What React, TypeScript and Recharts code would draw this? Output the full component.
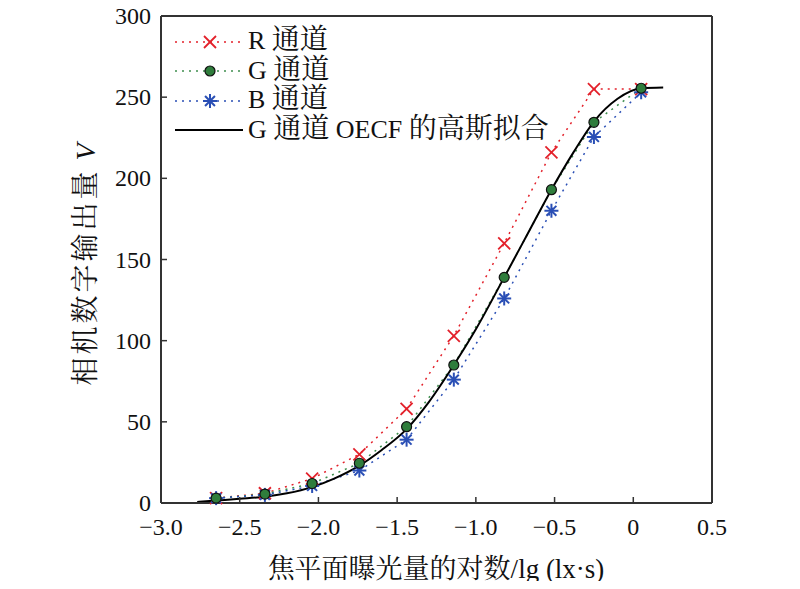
import React from "react"
import { ComposedChart, Line, XAxis, YAxis, ReferenceLine } from "recharts"

// exposure (lg lx·s) for the measured points
const exposure = [-2.65, -2.34, -2.04, -1.74, -1.44, -1.14, -0.82, -0.52, -0.25, 0.05]
const rValues = [3, 6, 15, 30, 58, 103, 160, 216, 255, 255]
const gValues = [3, 5.5, 12, 24.5, 47, 85, 139, 193, 234.5, 255.5]
const bValues = [3, 5, 10.5, 20, 39, 76, 126, 180, 225.5, 253]

// gaussian fit of G channel
const fitX = [-2.77, -2.65, -2.5, -2.34, -2.2, -2.04, -1.9, -1.74, -1.6, -1.44, -1.3, -1.14, -1.0, -0.82, -0.67, -0.52, -0.38, -0.25, -0.1, 0.05, 0.19]
const fitY = [0.6, 1.5, 2.6, 3.9, 6, 9.8, 15, 23, 32.5, 45.5, 62, 85, 107, 139, 166, 193, 216, 235, 249, 255.5, 256]

const xTicks = [-3, -2.5, -2, -1.5, -1, -0.5, 0, 0.5]
const yTicks = [0, 50, 100, 150, 200, 250, 300]

// legend labels split in latin / CJK parts so the CJK can be a bit larger
const seriesNames = [
  [["R ", "l"], ["通道", "c"]],
  [["G ", "l"], ["通道", "c"]],
  [["B ", "l"], ["通道", "c"]],
  [["G ", "l"], ["通道", "c"], [" OECF ", "l"], ["的高斯拟合", "c"]],
]

const RED = "#e3202a"
const GREEN = "#2f7d3c"
const GREEN_LINE = "#3f8f4f"
const BLUE = "#2a4fb5"
const AXIS = "#333"
const FONT = "'Liberation Serif', 'Times New Roman', 'Noto Serif CJK SC', 'Noto Sans CJK SC', serif"

const toPoints = (xs: number[], ys: number[]) => xs.map((x, i) => ({ x, y: ys[i] }))

const rData = toPoints(exposure, rValues)
const gData = toPoints(exposure, gValues)
const bData = toPoints(exposure, bValues)
const fitData = toPoints(fitX, fitY)

const TICK_MARGIN = 10
const TICK_LEN = 6

const fmtX = (v: number) => (v === 0 ? "0" : v < 0 ? "\u2212" + Math.abs(v).toFixed(1) : v.toFixed(1))

function XMark({ cx, cy, size = 6 }: { cx: number; cy: number; size?: number }) {
  return (
    <g stroke={RED} strokeWidth={1.8}>
      <line x1={cx - size} y1={cy - size} x2={cx + size} y2={cy + size} />
      <line x1={cx - size} y1={cy + size} x2={cx + size} y2={cy - size} />
    </g>
  )
}

function Circle({ cx, cy, r = 5 }: { cx: number; cy: number; r?: number }) {
  return <circle cx={cx} cy={cy} r={r} fill={GREEN} stroke="#111" strokeWidth={1.2} />
}

function Star({ cx, cy, r = 7 }: { cx: number; cy: number; r?: number }) {
  const d = r * 0.707
  return (
    <g stroke={BLUE} strokeWidth={2}>
      <line x1={cx - r} y1={cy} x2={cx + r} y2={cy} />
      <line x1={cx} y1={cy - r} x2={cx} y2={cy + r} />
      <line x1={cx - d} y1={cy - d} x2={cx + d} y2={cy + d} />
      <line x1={cx - d} y1={cy + d} x2={cx + d} y2={cy - d} />
    </g>
  )
}

function XTick(props: any) {
  const { x, y, payload } = props
  const axisY = y - TICK_MARGIN
  return (
    <g>
      {payload.value > -3 && payload.value < 0.5 && (
        <line x1={x} y1={axisY} x2={x} y2={axisY - TICK_LEN} stroke={AXIS} strokeWidth={1.5} />
      )}
      <text x={x} y={y} dy="0.9em" textAnchor="middle" fontSize={24} fontFamily={FONT} fill="#111">
        {fmtX(payload.value)}
      </text>
    </g>
  )
}

function YTick(props: any) {
  const { x, y, payload } = props
  const axisX = x + TICK_MARGIN
  return (
    <g>
      {payload.value > 0 && payload.value < 300 && (
        <line x1={axisX} y1={y} x2={axisX + TICK_LEN} y2={y} stroke={AXIS} strokeWidth={1.5} />
      )}
      <text x={x} y={y} dy="0.34em" textAnchor="end" fontSize={24} fontFamily={FONT} fill="#111">
        {payload.value}
      </text>
    </g>
  )
}

function LegendRow({ idx }: { idx: number }) {
  const lineProps =
    idx === 0
      ? { stroke: RED, strokeDasharray: "2 5" }
      : idx === 1
      ? { stroke: GREEN_LINE, strokeDasharray: "2 5" }
      : idx === 2
      ? { stroke: BLUE, strokeDasharray: "2 5" }
      : { stroke: "#000" }
  return (
    <div style={{ display: "flex", alignItems: "center", height: 29.5 }}>
      <svg width={72} height={20} style={{ display: "block" }}>
        <line x1={2} y1={10} x2={70} y2={10} strokeWidth={idx === 3 ? 2 : 1.5} {...lineProps} />
        {idx === 0 && <XMark cx={37} cy={10} size={6} />}
        {idx === 1 && <Circle cx={37} cy={10} r={5} />}
        {idx === 2 && <Star cx={37} cy={10} r={7} />}
      </svg>
      <span style={{ marginLeft: 3, fontFamily: FONT, color: "#111", whiteSpace: "nowrap", lineHeight: "29px" }}>
        {seriesNames[idx].map(([t, k], j) => (
          <span key={j} style={{ fontSize: k === "c" ? 28 : 26, whiteSpace: "pre" }}>
            {t}
          </span>
        ))}
      </span>
    </div>
  )
}

export default function App() {
  return (
    <div style={{ position: "relative", width: 800, height: 589, margin: -8, background: "#fff" }}>
      <ComposedChart width={800} height={589} margin={{ top: 16, right: 88, bottom: 0, left: 0 }}>
        <XAxis
          type="number"
          dataKey="x"
          domain={[-3, 0.5]}
          ticks={xTicks}
          allowDataOverflow
          height={86}
          tickSize={0}
          tickMargin={TICK_MARGIN}
          tick={<XTick />}
          axisLine={{ stroke: AXIS, strokeWidth: 2 }}
          interval={0}
        />
        <YAxis
          type="number"
          domain={[0, 300]}
          ticks={yTicks}
          width={161}
          tickSize={0}
          tickMargin={TICK_MARGIN}
          tick={<YTick />}
          axisLine={{ stroke: AXIS, strokeWidth: 2 }}
          interval={0}
        />
        <ReferenceLine y={300} stroke={AXIS} strokeWidth={2} ifOverflow="visible" />
        <ReferenceLine x={0.5} stroke={AXIS} strokeWidth={2} ifOverflow="visible" />
        <Line
          data={rData}
          dataKey="y"
          name="R"
          type="linear"
          stroke={RED}
          strokeWidth={1.5}
          strokeDasharray="2 5"
          isAnimationActive={false}
          dot={(p: any) => <XMark key={"r" + p.index} cx={p.cx} cy={p.cy} />}
        />
        <Line
          data={gData}
          dataKey="y"
          name="G"
          type="linear"
          stroke={GREEN_LINE}
          strokeWidth={1.5}
          strokeDasharray="2 5"
          isAnimationActive={false}
          dot={false}
        />
        <Line
          data={bData}
          dataKey="y"
          name="B"
          type="linear"
          stroke={BLUE}
          strokeWidth={1.5}
          strokeDasharray="2 5"
          isAnimationActive={false}
          dot={(p: any) => <Star key={"b" + p.index} cx={p.cx} cy={p.cy} />}
        />
        <Line
          data={fitData}
          dataKey="y"
          name="fit"
          type="monotone"
          stroke="#000"
          strokeWidth={2}
          isAnimationActive={false}
          dot={false}
        />
        <Line
          data={gData}
          dataKey="y"
          name="g-markers"
          stroke="none"
          isAnimationActive={false}
          legendType="none"
          dot={(p: any) => <Circle key={"g" + p.index} cx={p.cx} cy={p.cy} />}
        />
      </ComposedChart>
      <svg width={800} height={589} style={{ position: "absolute", left: 0, top: 0, pointerEvents: "none" }}>
        <text
          transform="translate(95, 263) rotate(-90)"
          textAnchor="middle"
          fontSize={28}
          letterSpacing={3}
          fontFamily={FONT}
          fill="#111"
        >
          相机数字输出量<tspan fontStyle="italic" dx={8}>V</tspan>
        </text>
        <text x={436} y={578} textAnchor="middle" fontSize={27} fontFamily={FONT} fill="#111">
          焦平面曝光量的对数/lg (lx·s)
        </text>
      </svg>
      <div style={{ position: "absolute", left: 173, top: 27 }}>
        {[0, 1, 2, 3].map((i) => (
          <LegendRow key={i} idx={i} />
        ))}
      </div>
    </div>
  )
}
